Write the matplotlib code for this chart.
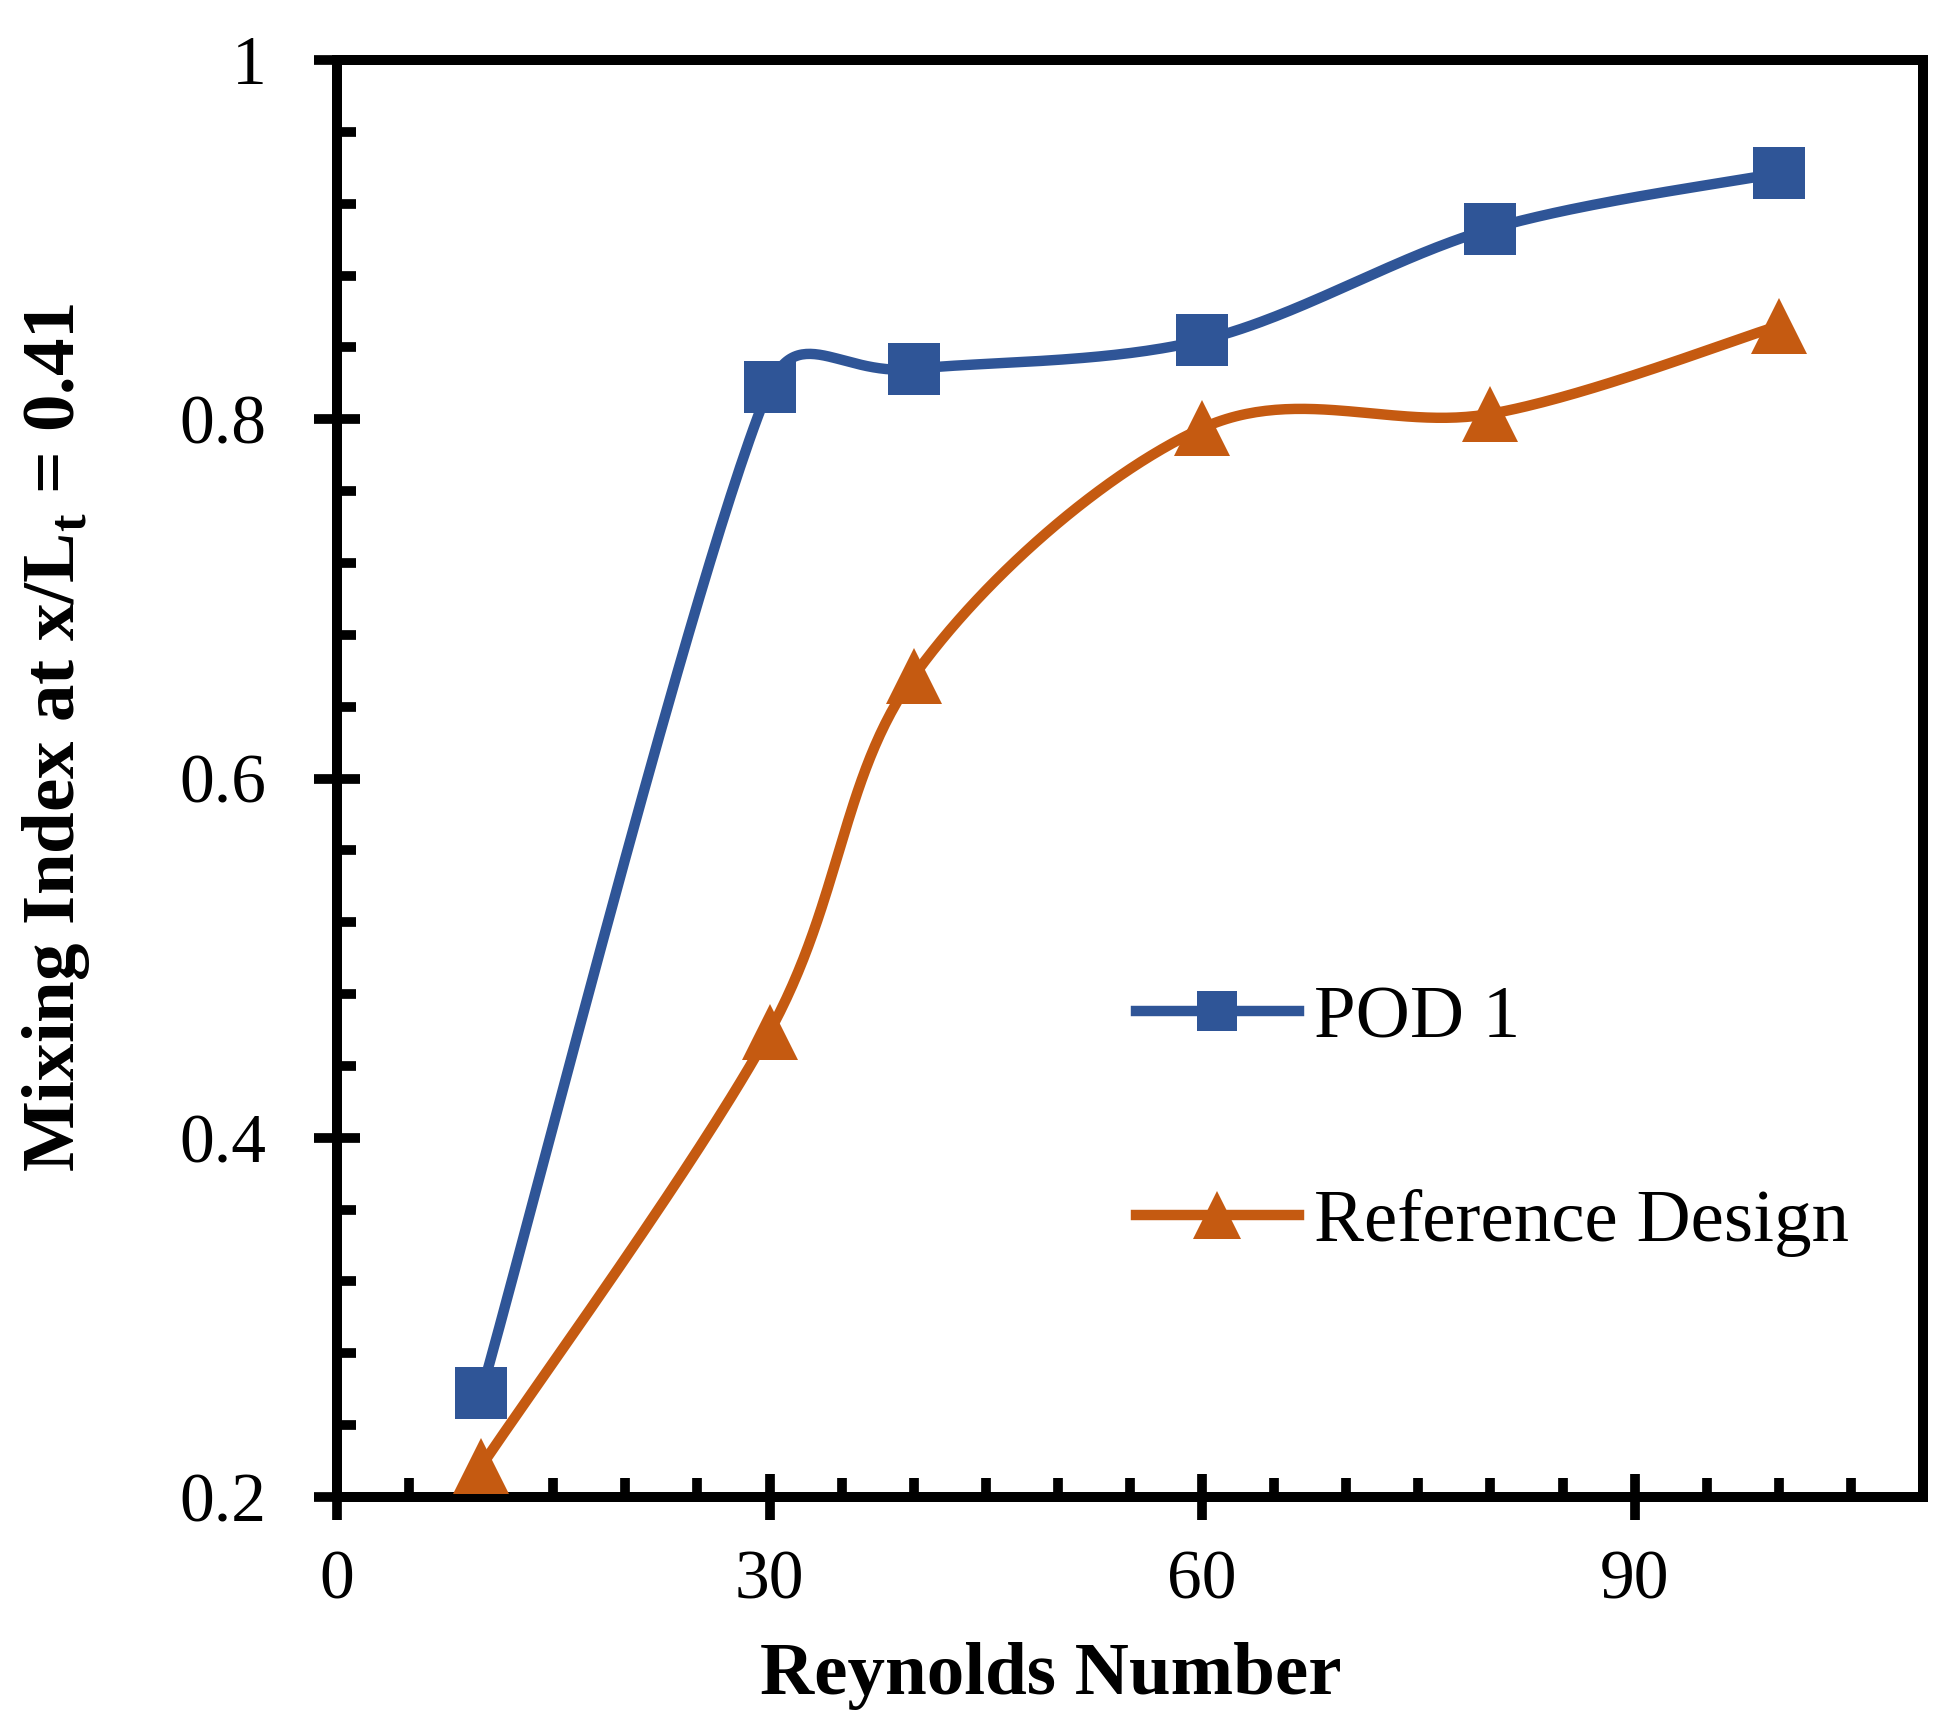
import numpy as np
import matplotlib
matplotlib.use("Agg")
import matplotlib.pyplot as plt
from matplotlib.lines import Line2D
from matplotlib.ticker import MultipleLocator

# values
reynolds = [10, 30, 40, 60, 80, 100]
pod1 = [0.258, 0.818, 0.828, 0.844, 0.906, 0.937]
reference_design = [0.217, 0.459, 0.657, 0.795, 0.803, 0.852]

series_names = ["POD 1", "Reference Design"]
x_ticks = [0, 30, 60, 90]
y_ticks = [0.2, 0.4, 0.6, 0.8, 1.0]
y_tick_labels = ["0.2", "0.4", "0.6", "0.8", "1"]

blue = "#2F5597"
orange = "#C55A11"

plt.rcParams['font.family'] = ['Liberation Serif', 'DejaVu Serif']
plt.rcParams['mathtext.fontset'] = 'custom'
plt.rcParams['mathtext.rm'] = 'Liberation Serif'
plt.rcParams['mathtext.bf'] = 'Liberation Serif:bold'


def smooth_curve(ax, xs, ys, n=60):
    # Excel-like smoothed line: bezier in screen space, control arm = |P2-P0|/6
    # but never more than half the segment
    pts = ax.transData.transform(np.column_stack([xs, ys]))
    ext = np.vstack([pts[0], pts, pts[-1]])
    t = np.linspace(0, 1, n)[:, None]
    out = []
    for i in range(len(pts) - 1):
        p0, p1, p2, p3 = ext[i], ext[i + 1], ext[i + 2], ext[i + 3]
        seg_len = np.hypot(*(p2 - p1))
        v1 = (p2 - p0) / 6.0
        v2 = (p3 - p1) / 6.0
        l1, l2 = np.hypot(*v1), np.hypot(*v2)
        if l1 > seg_len / 2:
            v1 = v1 * (seg_len / 2) / l1
        if l2 > seg_len / 2:
            v2 = v2 * (seg_len / 2) / l2
        c1 = p1 + v1
        c2 = p2 - v2
        seg = ((1 - t) ** 3) * p1 + 3 * ((1 - t) ** 2) * t * c1 \
            + 3 * (1 - t) * t ** 2 * c2 + t ** 3 * p2
        out.append(seg if i == 0 else seg[1:])
    out = np.vstack(out)
    data = ax.transData.inverted().transform(out)
    return data[:, 0], data[:, 1]


fig = plt.figure(figsize=(19.58, 17.35), dpi=100)
ax = fig.add_axes([337 / 1958, 1 - 1497 / 1735, 1586 / 1958, 1437 / 1735])
ax.set_xlim(0, 110)
ax.set_ylim(0.2, 1.0)

for name, vals, col, mk, ms in [(series_names[0], pod1, blue, 's', 37),
                                (series_names[1], reference_design, orange, '^', 40)]:
    sx, sy = smooth_curve(ax, reynolds, vals)
    ax.plot(sx, sy, color=col, lw=7.5, solid_capstyle='round', zorder=2)
    ax.plot(reynolds, vals, linestyle='none', marker=mk, markersize=ms,
            color=col, markeredgewidth=0, zorder=3, clip_on=False)

for sp in ax.spines.values():
    sp.set_linewidth(7.2)

ax.set_xticks(x_ticks)
ax.set_yticks(y_ticks)
ax.set_yticklabels(y_tick_labels)
ax.xaxis.set_minor_locator(MultipleLocator(5))
ax.yaxis.set_minor_locator(MultipleLocator(0.04))
ax.tick_params(which='major', direction='inout', length=33, width=7,
               labelsize=50, top=False, right=False)
ax.tick_params(axis='y', which='major', pad=34)
ax.tick_params(axis='x', which='major', pad=22)
ax.tick_params(which='minor', direction='in', length=14, width=7,
               top=False, right=False)

ax.set_xlabel("Reynolds Number", fontsize=54, fontweight='bold')
ax.xaxis.set_label_coords(0.45, -0.1246)
ax.xaxis.label.set_va('center')
ax.set_ylabel(r"Mixing Index at x/L$_\mathbf{t}$ = 0.41", fontsize=54,
              fontweight='bold')
ax.yaxis.set_label_coords(-0.177, 0.529)
ax.yaxis.label.set_va('center')

handles = [Line2D([], [], color=blue, lw=7.5, marker='s', markersize=29, markeredgewidth=0),
           Line2D([], [], color=orange, lw=7.5, marker='^', markersize=35, markeredgewidth=0)]
fig.legend(handles, series_names, loc='center left',
           bbox_to_anchor=(1136 / 1958, 1 - 1121 / 1735), frameon=False,
           fontsize=54, handlelength=2.17, handletextpad=0.21,
           labelspacing=1.8, borderpad=0, borderaxespad=0)

fig.savefig("out.png", dpi=100)
